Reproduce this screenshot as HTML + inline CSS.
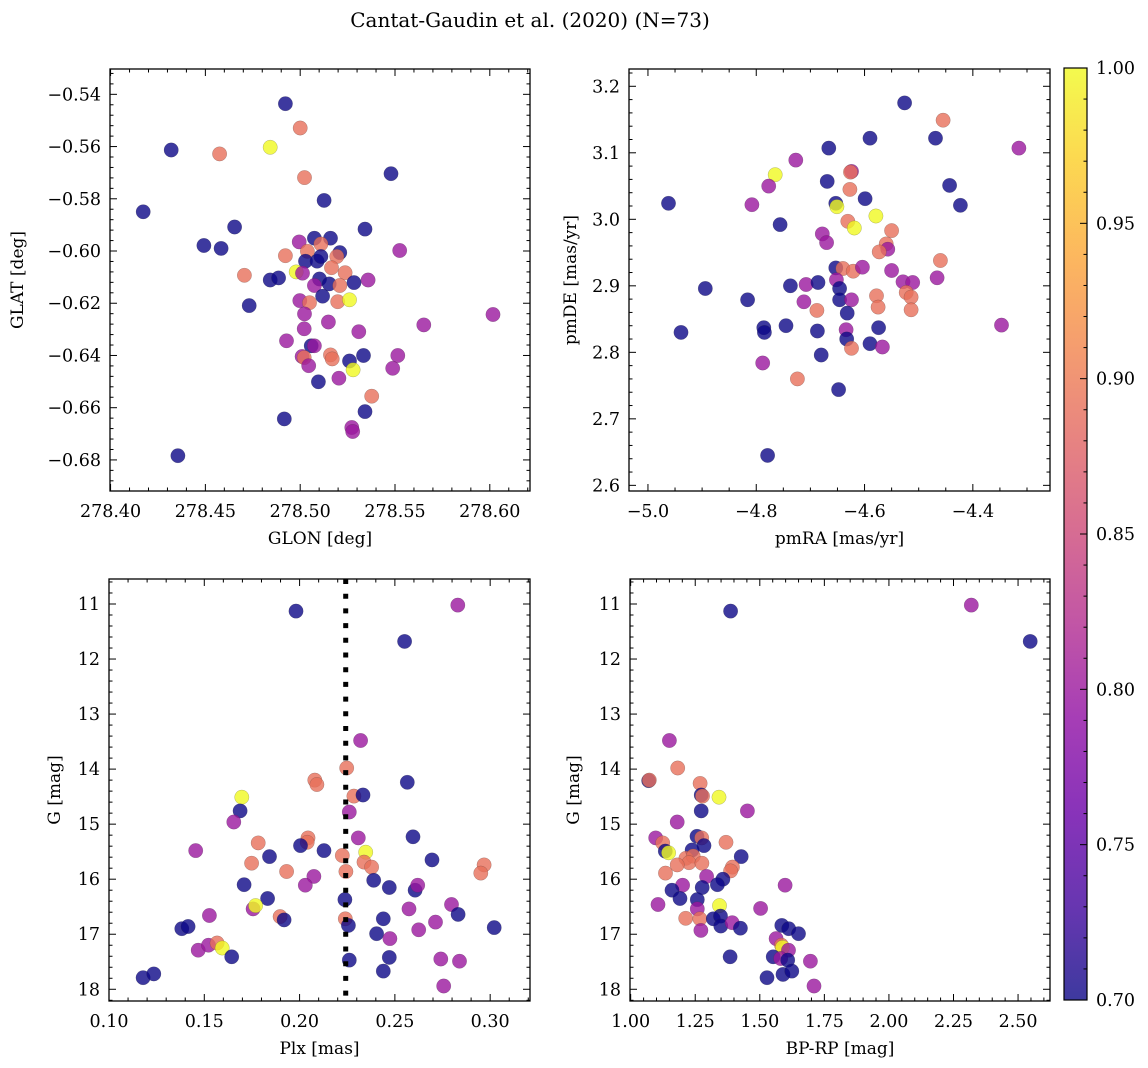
<!DOCTYPE html>
<html><head><meta charset="utf-8">
<style>
html,body{margin:0;padding:0;background:#fff;}
svg{display:block;font-family:"DejaVu Serif","Liberation Serif",serif;}
</style></head>
<body>
<svg id="fig" width="1148" height="1068" viewBox="0 0 1148 1068" xmlns="http://www.w3.org/2000/svg">
<defs>
<linearGradient id="plasma" x1="0" y1="1" x2="0" y2="0">
<stop offset="0" stop-color="#0d0887"/><stop offset="0.1" stop-color="#41049d"/><stop offset="0.2" stop-color="#6a00a8"/><stop offset="0.3" stop-color="#8f0da4"/><stop offset="0.4" stop-color="#b12a90"/><stop offset="0.5" stop-color="#cc4778"/><stop offset="0.6" stop-color="#e16462"/><stop offset="0.7" stop-color="#f2844b"/><stop offset="0.8" stop-color="#fca636"/><stop offset="0.9" stop-color="#fcce25"/><stop offset="1" stop-color="#f0f921"/>
</linearGradient>
</defs>
<text x="530" y="27" font-size="20" text-anchor="middle">Cantat-Gaudin et al. (2020) (N=73)</text>
</svg>
<script>
// ---- Panel 1: GLON vs GLAT ----
const glon = [278.4922,278.5000,278.4842,278.4320,278.4575,278.5023,278.5479,278.4172,278.5126,278.4654,278.5342,278.4492,278.4583,278.4995,278.5075,278.5160,278.5109,278.5525,278.5038,278.4922,278.5209,278.5193,278.5028,278.5089,278.5109,278.5165,278.5237,278.4979,278.5012,278.4842,278.4886,278.5102,278.5153,278.5284,278.5358,278.5075,278.5209,278.5118,278.4731,278.4706,278.4998,278.5049,278.5198,278.5260,278.5023,278.5149,278.5021,278.6017,278.5652,278.5309,278.4928,278.5058,278.5075,278.5010,278.5021,278.5045,278.5160,278.5169,278.5260,278.5334,278.5515,278.5488,278.5279,278.5096,278.5204,278.5377,278.5342,278.4916,278.5272,278.5277,278.4355];
const glat = [-0.5436,-0.5529,-0.5603,-0.5613,-0.5628,-0.5719,-0.5704,-0.5850,-0.5806,-0.5908,-0.5916,-0.5979,-0.5990,-0.5965,-0.5951,-0.5951,-0.5973,-0.5998,-0.6001,-0.6018,-0.6006,-0.6021,-0.6039,-0.6039,-0.6021,-0.6064,-0.6083,-0.6080,-0.6085,-0.6111,-0.6103,-0.6107,-0.6126,-0.6121,-0.6111,-0.6132,-0.6132,-0.6173,-0.6209,-0.6093,-0.6190,-0.6198,-0.6194,-0.6187,-0.6241,-0.6272,-0.6298,-0.6243,-0.6283,-0.6309,-0.6344,-0.6363,-0.6363,-0.6404,-0.6408,-0.6439,-0.6398,-0.6413,-0.6421,-0.6400,-0.6400,-0.6449,-0.6455,-0.6501,-0.6487,-0.6556,-0.6615,-0.6643,-0.6676,-0.6691,-0.6784];
const prob1 = [0.70,0.89,1.0,0.70,0.89,0.89,0.70,0.70,0.70,0.70,0.70,0.70,0.70,0.80,0.70,0.70,0.89,0.80,0.89,0.89,0.70,0.89,0.70,0.70,0.70,0.89,0.89,1.0,0.80,0.70,0.70,0.70,0.70,0.70,0.80,0.80,0.89,0.70,0.70,0.89,0.80,0.89,0.89,1.0,0.80,0.80,0.80,0.80,0.80,0.80,0.80,0.70,0.80,0.80,0.89,0.80,0.89,0.89,0.70,0.70,0.80,0.80,1.0,0.70,0.80,0.89,0.70,0.70,0.80,0.80,0.70];
const xticks1 = [278.40,278.45,278.50,278.55,278.60];
const yticks1 = [-0.54,-0.56,-0.58,-0.60,-0.62,-0.64,-0.66,-0.68];

// ---- Panel 2: pmRA vs pmDE ----
const pmra = [-4.526,-4.455,-4.590,-4.469,-4.315,-4.666,-4.727,-4.765,-4.624,-4.626,-4.669,-4.777,-4.627,-4.443,-4.962,-4.808,-4.599,-4.653,-4.651,-4.423,-4.756,-4.579,-4.631,-4.619,-4.550,-4.678,-4.670,-4.560,-4.557,-4.573,-4.460,-4.653,-4.640,-4.621,-4.604,-4.550,-4.466,-4.737,-4.708,-4.686,-4.652,-4.646,-4.529,-4.511,-4.523,-4.514,-4.514,-4.578,-4.575,-4.894,-4.816,-4.712,-4.646,-4.624,-4.688,-4.632,-4.786,-4.785,-4.745,-4.687,-4.634,-4.633,-4.624,-4.939,-4.574,-4.590,-4.567,-4.680,-4.788,-4.724,-4.648,-4.347,-4.779];
const pmde = [3.175,3.149,3.122,3.122,3.107,3.107,3.089,3.067,3.072,3.071,3.057,3.050,3.045,3.051,3.024,3.022,3.031,3.024,3.019,3.021,2.992,3.005,2.997,2.987,2.983,2.978,2.965,2.963,2.955,2.951,2.938,2.927,2.926,2.922,2.928,2.923,2.912,2.900,2.902,2.905,2.909,2.896,2.906,2.905,2.890,2.883,2.864,2.885,2.868,2.896,2.879,2.876,2.879,2.879,2.863,2.859,2.837,2.830,2.840,2.832,2.834,2.820,2.806,2.830,2.837,2.813,2.808,2.796,2.784,2.760,2.744,2.841,2.645];
const prob2 = [0.70,0.89,0.70,0.70,0.80,0.70,0.80,1.0,0.80,0.89,0.70,0.80,0.89,0.70,0.70,0.80,0.70,0.70,1.0,0.70,0.70,1.0,0.89,1.0,0.89,0.80,0.80,0.89,0.80,0.89,0.89,0.70,0.89,0.89,0.80,0.80,0.80,0.70,0.80,0.70,0.80,0.70,0.80,0.80,0.89,0.89,0.89,0.89,0.89,0.70,0.70,0.80,0.70,0.80,0.89,0.70,0.70,0.70,0.70,0.70,0.80,0.70,0.89,0.70,0.70,0.70,0.80,0.70,0.80,0.89,0.70,0.80,0.70];
const xticks2 = [-5.0,-4.8,-4.6,-4.4];
const yticks2 = [2.6,2.7,2.8,2.9,3.0,3.1,3.2];

// ---- Panel 3: Plx vs G ----
const plx = [0.1981,0.2830,0.2551,0.2320,0.2247,0.2080,0.2091,0.2565,0.1697,0.2285,0.2333,0.1688,0.2261,0.1655,0.2044,0.2040,0.2005,0.2308,0.2595,0.1455,0.1783,0.2128,0.2224,0.2347,0.2338,0.2378,0.1842,0.1748,0.2695,0.2968,0.2951,0.1932,0.2243,0.2075,0.2030,0.1709,0.2389,0.2471,0.2606,0.2620,0.2238,0.1832,0.1756,0.1769,0.2574,0.2797,0.2832,0.1527,0.1898,0.1919,0.2240,0.2439,0.2256,0.1382,0.1415,0.2404,0.2625,0.2713,0.3021,0.2474,0.1468,0.1522,0.1567,0.1594,0.1644,0.2261,0.2471,0.2439,0.2741,0.2839,0.2756,0.1179,0.1235];
const gmag3 = [11.13,11.02,11.68,13.48,13.98,14.20,14.28,14.24,14.51,14.49,14.47,14.76,14.78,14.96,15.25,15.33,15.39,15.25,15.23,15.48,15.34,15.48,15.57,15.51,15.69,15.78,15.59,15.71,15.65,15.74,15.89,15.86,15.86,15.95,16.11,16.10,16.02,16.15,16.20,16.11,16.37,16.35,16.54,16.48,16.54,16.46,16.64,16.66,16.68,16.74,16.72,16.72,16.84,16.90,16.86,16.99,16.92,16.78,16.88,17.08,17.29,17.20,17.16,17.25,17.41,17.47,17.42,17.67,17.45,17.49,17.94,17.79,17.72];
const prob3 = [0.70,0.80,0.70,0.80,0.89,0.89,0.89,0.70,1.0,0.89,0.70,0.70,0.80,0.80,0.89,0.89,0.70,0.80,0.70,0.80,0.89,0.70,0.89,1.0,0.89,0.89,0.70,0.89,0.70,0.89,0.89,0.89,0.89,0.80,0.80,0.70,0.70,0.70,0.70,0.80,0.70,0.70,0.80,1.0,0.80,0.80,0.70,0.80,0.89,0.70,0.89,0.70,0.70,0.70,0.70,0.70,0.80,0.80,0.70,0.80,0.80,0.80,0.89,1.0,0.70,0.70,0.70,0.70,0.80,0.80,0.80,0.70,0.70];
const plxCut = [0.2242];
const xticks3 = [0.10,0.15,0.20,0.25,0.30];
const yticksG = [11,12,13,14,15,16,17,18];

// ---- Panel 4: BP-RP vs G ----
const bprp = [1.387,2.319,2.547,1.150,1.182,1.070,1.072,1.269,1.273,1.278,1.342,1.273,1.452,1.180,1.097,1.257,1.275,1.284,1.124,1.369,1.134,1.147,1.238,1.428,1.214,1.242,1.226,1.276,1.180,1.135,1.394,1.387,1.294,1.357,1.336,1.598,1.201,1.160,1.277,1.191,1.258,1.106,1.344,1.503,1.258,1.213,1.268,1.320,1.348,1.349,1.393,1.425,1.272,1.585,1.612,1.650,1.563,1.584,1.588,1.611,1.385,1.552,1.581,1.608,1.696,1.528,1.590,1.624,1.710];
const gmag4 = [11.13,11.02,11.68,13.48,13.98,14.21,14.20,14.26,14.47,14.49,14.51,14.76,14.76,14.96,15.25,15.22,15.25,15.39,15.34,15.33,15.49,15.52,15.47,15.59,15.62,15.58,15.70,15.71,15.74,15.89,15.78,15.85,15.95,16.00,16.10,16.11,16.11,16.20,16.15,16.35,16.37,16.46,16.48,16.53,16.54,16.71,16.72,16.72,16.67,16.85,16.79,16.89,16.93,16.84,16.90,16.99,17.08,17.20,17.24,17.29,17.41,17.41,17.44,17.47,17.49,17.79,17.73,17.67,17.94];
const prob4 = [0.70,0.80,0.70,0.80,0.89,0.70,0.89,0.89,0.70,0.89,1.0,0.70,0.80,0.80,0.80,0.70,0.89,0.70,0.89,0.89,0.70,1.0,0.70,0.70,0.89,0.89,0.89,0.89,0.89,0.89,0.89,0.89,0.80,0.70,0.70,0.80,0.80,0.70,0.70,0.70,0.70,0.80,1.0,0.80,0.80,0.89,0.89,0.70,0.70,0.70,0.80,0.70,0.80,0.70,0.70,0.70,0.80,0.89,1.0,0.80,0.70,0.70,0.80,0.70,0.80,0.70,0.70,0.70,0.80];
const xticks4 = [1.00,1.25,1.50,1.75,2.00,2.25,2.50];

// ---- Colorbar ----
const cbTicks = [0.70,0.75,0.80,0.85,0.90,0.95,1.00];

const NS = 'http://www.w3.org/2000/svg';
const svg = document.getElementById('fig');
function mk(tag, attrs, parent){ const e=document.createElementNS(NS,tag); for(const k in attrs) e.setAttribute(k,attrs[k]); (parent||svg).appendChild(e); return e; }

const stops=[[0,13,8,135],[0.1,65,4,157],[0.2,106,0,168],[0.3,143,13,164],[0.4,177,42,144],[0.5,204,71,120],[0.6,225,100,98],[0.7,242,132,75],[0.8,252,166,54],[0.9,252,206,37],[1,240,249,33]];
function plasma(t){ t=Math.max(0,Math.min(1,t)); for(let i=1;i<stops.length;i++){ if(t<=stops[i][0]){ const a=stops[i-1],b=stops[i],f=(t-a[0])/(b[0]-a[0]); return 'rgb('+[1,2,3].map(j=>Math.round(a[j]+(b[j]-a[j])*f)).join(',')+')'; } } return 'rgb(240,249,33)'; }
function cmap(p){ return plasma((p-0.7)/0.3); }

const FS = 17.5;
function panel(o){
  const g = mk('g',{});
  
  
  const sx = v => o.L + (v-o.x0)/(o.x1-o.x0)*(o.R-o.L);
  const sy = v => o.inv ? o.T + (v-o.y0)/(o.y1-o.y0)*(o.B-o.T) : o.B - (v-o.y0)/(o.y1-o.y0)*(o.B-o.T);
  for(let i=0;i<o.xs.length;i++){
    const c = mk('circle',{cx:sx(o.xs[i]).toFixed(1), cy:sy(o.ys[i]).toFixed(1), r:7.2, fill:cmap(o.ps[i]), 'fill-opacity':0.8, stroke:'#333', 'stroke-opacity':0.35, 'stroke-width':0.5}, g);
    
    
  }
  if(o.vline){
    for(const v of o.vline){
      const l = mk('line',{x1:sx(v),x2:sx(v),y1:o.T,y2:o.B,stroke:'#000','stroke-width':5,'stroke-dasharray':'5 9.7'}, g);
      
      
    }
  }
  mk('rect',{x:o.L,y:o.T,width:o.R-o.L,height:o.B-o.T,fill:'none',stroke:'#000','stroke-width':1.3}, g);
  const xmin=Math.min(o.x0,o.x1), xmax=Math.max(o.x0,o.x1);
  for(let k=Math.ceil(xmin/o.xminor-1e-6);k*o.xminor<=xmax+1e-9;k++){
    const v=k*o.xminor, x=sx(v);
    const major = o.xt.some(t=>Math.abs(t-v)<o.xminor*0.1);
    const len = major?7:3.5;
    mk('line',{x1:x,x2:x,y1:o.B,y2:o.B-len,stroke:'#000','stroke-width':1}, g);
    mk('line',{x1:x,x2:x,y1:o.T,y2:o.T+len,stroke:'#000','stroke-width':1}, g);
  }
  for(const v of o.xt){
    const t = mk('text',{x:sx(v),y:o.B+26,'font-size':FS,'text-anchor':'middle'}, g);
    t.textContent = (v<0?'\u2212':'')+Math.abs(v).toFixed(o.xd);
    
    
  }
  const ymin=Math.min(o.y0,o.y1), ymax=Math.max(o.y0,o.y1);
  for(let k=Math.ceil(ymin/o.yminor-1e-6);k*o.yminor<=ymax+1e-9;k++){
    const v=k*o.yminor, y=sy(v);
    const major = o.yt.some(t=>Math.abs(t-v)<o.yminor*0.1);
    const len = major?7:3.5;
    mk('line',{x1:o.L,x2:o.L+len,y1:y,y2:y,stroke:'#000','stroke-width':1}, g);
    mk('line',{x1:o.R,x2:o.R-len,y1:y,y2:y,stroke:'#000','stroke-width':1}, g);
  }
  for(const v of o.yt){
    const t = mk('text',{x:o.L-9,y:sy(v)+6,'font-size':FS,'text-anchor':'end'}, g);
    t.textContent = (v<0?'\u2212':'')+Math.abs(v).toFixed(o.yd);
    
    
  }
  const xl = mk('text',{x:(o.L+o.R)/2,y:o.B+53,'font-size':17,'text-anchor':'middle'}, g);
  xl.textContent = o.xlab;
  
  
  const yl = mk('text',{x:0,y:0,'font-size':17,'text-anchor':'middle',transform:'translate('+o.ylx+','+((o.T+o.B)/2)+') rotate(-90)'}, g);
  yl.textContent = o.ylab;
  
  
}

panel({name:'glon-glat-panel',L:110,R:530,T:69,B:491,x0:278.3997,x1:278.6212,y0:-0.5303,y1:-0.6919,inv:true,xs:glon,ys:glat,ps:prob1,xt:xticks1,yt:yticks1,xminor:0.01,yminor:0.004,xd:2,yd:2,xlab:'GLON [deg]',ylab:'GLAT [deg]',ylx:23});
panel({name:'pm-panel',L:629,R:1050,T:69,B:491,x0:-5.035,x1:-4.2575,y0:2.5915,y1:3.226,inv:false,xs:pmra,ys:pmde,ps:prob2,xt:xticks2,yt:yticks2,xminor:0.05,yminor:0.02,xd:1,yd:1,xlab:'pmRA [mas/yr]',ylab:'pmDE [mas/yr]',ylx:576});
panel({name:'plx-g-panel',L:109,R:530,T:579,B:1001,x0:0.1,x1:0.3209,y0:10.546,y1:18.213,inv:true,xs:plx,ys:gmag3,ps:prob3,vline:plxCut,xt:xticks3,yt:yticksG,xminor:0.01,yminor:0.2,xd:2,yd:0,xlab:'Plx [mas]',ylab:'G [mag]',ylx:60});
panel({name:'cmd-panel',L:630,R:1050,T:579,B:1001,x0:0.9974,x1:2.6237,y0:10.546,y1:18.213,inv:true,xs:bprp,ys:gmag4,ps:prob4,xt:xticks4,yt:yticksG,xminor:0.05,yminor:0.2,xd:2,yd:0,xlab:'BP-RP [mag]',ylab:'G [mag]',ylx:579});

const cb = mk('g',{});


const cbT=68, cbB=1000, cbL=1064, cbR=1087;
mk('rect',{x:cbL,y:cbT,width:cbR-cbL,height:cbB-cbT,fill:'url(#plasma)','fill-opacity':0.8}, cb);
mk('rect',{x:cbL,y:cbT,width:cbR-cbL,height:cbB-cbT,fill:'none',stroke:'#000','stroke-width':1.2}, cb);
const cy = v => cbB - (v-0.7)/0.3*(cbB-cbT);
for(let k=70;k<=100;k++){
  const v=k/100, y=cy(v), major=(k%5===0);
  mk('line',{x1:cbR,x2:cbR-(major?7:3.5),y1:y,y2:y,stroke:'#000','stroke-width':1}, cb);
}
for(const v of cbTicks){
  const t = mk('text',{x:cbR+9,y:cy(v)+6,'font-size':FS}, cb);
  t.textContent = v.toFixed(2);
  
  
}
</script>
</body></html>
